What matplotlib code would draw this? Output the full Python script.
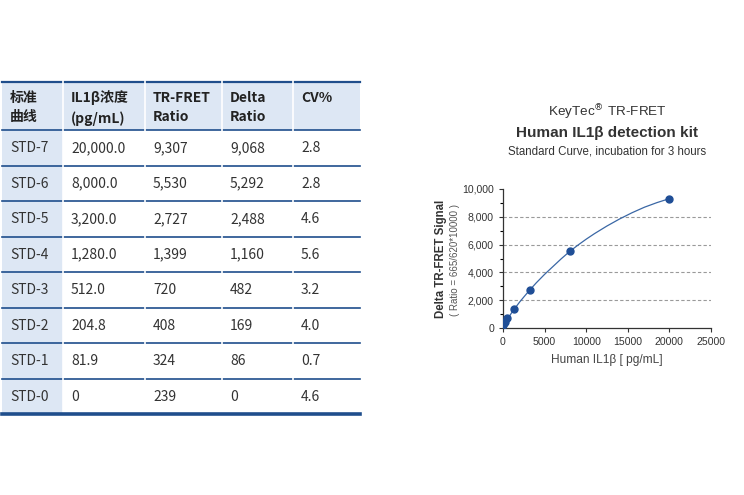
import numpy as np
import matplotlib.pyplot as plt
from matplotlib.patches import Rectangle
from matplotlib.ticker import FuncFormatter, MultipleLocator

plt.rcParams['font.family'] = ['Liberation Sans', 'DejaVu Sans']

# table data
headers = ['标准\n曲线', 'IL1β浓度\n(pg/mL)', 'TR-FRET\nRatio', 'Delta\nRatio', 'CV%']
std_names = ['STD-7', 'STD-6', 'STD-5', 'STD-4', 'STD-3', 'STD-2', 'STD-1', 'STD-0']
conc_txt = ['20,000.0', '8,000.0', '3,200.0', '1,280.0', '512.0', '204.8', '81.9', '0']
ratio_txt = ['9,307', '5,530', '2,727', '1,399', '720', '408', '324', '239']
delta_txt = ['9,068', '5,292', '2,488', '1,160', '482', '169', '86', '0']
cv_txt = ['2.8', '2.8', '4.6', '5.6', '3.2', '4.0', '0.7', '4.6']

# chart data (points) and fitted curve
conc = [20000, 8000, 3200, 1280, 512, 204.8, 81.9, 0]
ratio = [9307, 5530, 2727, 1399, 720, 408, 324, 239]
curve_x = [0, 250, 600, 1000, 1500, 2000, 2600, 3200, 4000, 5000, 6000, 7000, 8000, 9000,
           10000, 11000, 12500, 14000, 15500, 17000, 18500, 20000]
curve_y = [239, 420, 690, 1060, 1470, 1870, 2300, 2720, 3250, 3860, 4420, 4980, 5500, 5960,
           6390, 6790, 7340, 7840, 8290, 8690, 9020, 9307]

BLUE_BG = '#dde7f4'
BLUE_LINE = '#1f4e8c'
TXT = '#333333'
CJK = ['Noto Sans CJK SC', 'DejaVu Sans']

fig = plt.figure(figsize=(7.44, 4.95), dpi=100)

# ---- table drawn in pixel-like coords
tab = fig.add_axes([0, 0, 1, 1])
tab.set_xlim(0, 744)
tab.set_ylim(495, 0)
tab.axis('off')

col_x = [2, 63, 145, 222, 293, 360]
top, head_bot, row_h = 82, 130, 35.5
n = len(std_names)
bottom = head_bot + n * row_h

tab.add_patch(Rectangle((col_x[0], top), col_x[-1] - col_x[0], head_bot - top, color=BLUE_BG, lw=0))
tab.add_patch(Rectangle((col_x[0], head_bot), col_x[1] - col_x[0], bottom - head_bot, color=BLUE_BG, lw=0))

tab.plot([col_x[0], col_x[-1]], [top, top], color=BLUE_LINE, lw=1.6)
for i in range(n):
    y = head_bot + i * row_h
    tab.plot([col_x[0], col_x[-1]], [y, y], color=BLUE_LINE, lw=1.2)
for xc in col_x[1:-1]:
    tab.plot([xc, xc], [top - 1, bottom - 2], color='white', lw=1.2)
tab.plot([col_x[0], col_x[-1]], [bottom, bottom], color=BLUE_LINE, lw=2.6)

for j, h in enumerate(headers):
    tab.text(col_x[j] + 8, top + 8.5, h, fontsize=10, fontweight='bold', color='#222222',
             va='top', ha='left', linespacing=1.5, family=CJK)

cols = [std_names, conc_txt, ratio_txt, delta_txt, cv_txt]
for j, col in enumerate(cols):
    for i, v in enumerate(col):
        yc = head_bot + (i + 0.5) * row_h + 0.5
        tab.text(col_x[j] + 8, yc, v, fontsize=10, color=TXT, va='center', ha='left', family=CJK)

# ---- titles
fig.text(0.816, 1 - 112 / 495, 'KeyTec$^{®}$ TR-FRET', ha='center', va='center', fontsize=9.7, color='#333333')
fig.text(0.816, 1 - 133 / 495, 'Human IL1β detection kit', ha='center', va='center', fontsize=11,
         fontweight='bold', color='#333333')
fig.text(0.816, 1 - 152 / 495, 'Standard Curve, incubation for 3 hours', ha='center', va='center',
         fontsize=8.3, color='#333333')

# ---- chart
ax = fig.add_axes([503 / 744, 1 - 328 / 495, 208 / 744, 139 / 495])
for yv in [2000, 4000, 6000, 8000]:
    ax.axhline(yv, color='#9a9a9a', lw=0.8, ls=(0, (3, 2)), zorder=0)
ax.plot(curve_x, curve_y, color='#3a67a5', lw=0.9, zorder=2)
ax.plot(conc, ratio, 'o', color='#1f4e96', ms=5, zorder=3)

ax.set_xlim(0, 25000)
ax.set_ylim(0, 10000)
ax.set_xticks(range(0, 25001, 5000))
ax.set_yticks(range(0, 10001, 2000))
ax.yaxis.set_minor_locator(MultipleLocator(1000))
ax.yaxis.set_major_formatter(FuncFormatter(lambda v, p: f'{int(v):,}'))
ax.tick_params(labelsize=7.6, colors='#333333', length=3, width=0.8)
ax.tick_params(which='minor', length=2, width=0.8)
for s in ['top', 'right']:
    ax.spines[s].set_visible(False)
for s in ['left', 'bottom']:
    ax.spines[s].set_linewidth(0.9)
    ax.spines[s].set_color('#333333')

ax.set_xlabel('Human IL1β [ pg/mL]', fontsize=8.6, color='#444444', labelpad=5)
fig.text(441 / 744, 1 - 259 / 495, 'Delta TR-FRET Signal', rotation=90, ha='center', va='center',
         fontsize=8.3, fontweight='bold', color='#333333')
fig.text(455 / 744, 1 - 260 / 495, '( Ratio = 665/620*10000 )', rotation=90, ha='center', va='center',
         fontsize=7, color='#555555')

fig.savefig('out.png', dpi=100)
